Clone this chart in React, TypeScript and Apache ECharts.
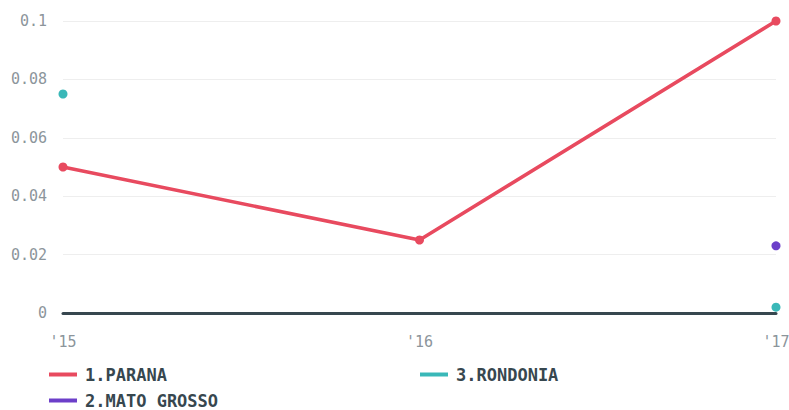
import React, { useEffect, useRef } from "react";
import * as echarts from "echarts";

const categories = ["'15", "'16", "'17"];
const parana = [0.05, 0.025, 0.1];
const matoGrosso = [null, null, 0.023];
const rondonia = [0.075, null, 0.002];
const seriesNames = ["1.PARANA", "2.MATO GROSSO", "3.RONDONIA"];
const colors = ["#e84a5f", "#6c3fc9", "#3ab8b8"];

export default function App() {
  const ref = useRef<HTMLDivElement>(null);
  useEffect(() => {
    const chart = echarts.init(ref.current!, null, { renderer: "svg" });
    const font = "'DejaVu Sans Mono', monospace";
    const legendBase = {
      icon: "rect",
      itemWidth: 28,
      itemHeight: 4,
      itemGap: 8,
      textStyle: { fontFamily: font, fontSize: 17, fontWeight: "bold", color: "#37474f", padding: [0, 0, 0, 3] },
      selectedMode: false,
    };
    chart.setOption({
      animation: false,
      color: colors,
      grid: { left: 63, right: 13, top: 21, bottom: 97, outerBoundsMode: "none", containLabel: false },
      legend: [
        { ...legendBase, left: 44, top: 361, data: [seriesNames[0]] },
        { ...legendBase, left: 415, top: 361, data: [seriesNames[2]] },
        { ...legendBase, left: 44, top: 387, data: [seriesNames[1]] },
      ],
      xAxis: {
        type: "category",
        data: categories,
        boundaryGap: false,
        axisLine: { lineStyle: { color: "#37474f", width: 3 } },
        axisTick: { show: false },
        axisLabel: { color: "#8c959b", fontFamily: font, fontSize: 15, margin: 21 },
        splitLine: { show: false },
      },
      yAxis: {
        type: "value",
        min: 0,
        max: 0.1,
        interval: 0.02,
        axisLine: { show: false },
        axisTick: { show: false },
        axisLabel: { color: "#8c959b", fontFamily: font, fontSize: 15, margin: 16 },
        splitLine: { lineStyle: { color: "#eeeeee", width: 1 } },
      },
      series: [
        {
          name: seriesNames[0],
          type: "line",
          data: parana,
          symbol: "circle",
          symbolSize: 9,
          lineStyle: { width: 3.5 },
          z: 3,
        },
        {
          name: seriesNames[1],
          type: "line",
          data: matoGrosso,
          symbol: "circle",
          symbolSize: 9,
          lineStyle: { width: 3.5 },
        },
        {
          name: seriesNames[2],
          type: "line",
          data: rondonia,
          symbol: "circle",
          symbolSize: 9,
          connectNulls: false,
          lineStyle: { width: 3.5 },
        },
      ],
    });
    return () => chart.dispose();
  }, []);
  return <div ref={ref} style={{ width: 789, height: 410, position: "absolute", left: 0, top: 0 }} />;
}
